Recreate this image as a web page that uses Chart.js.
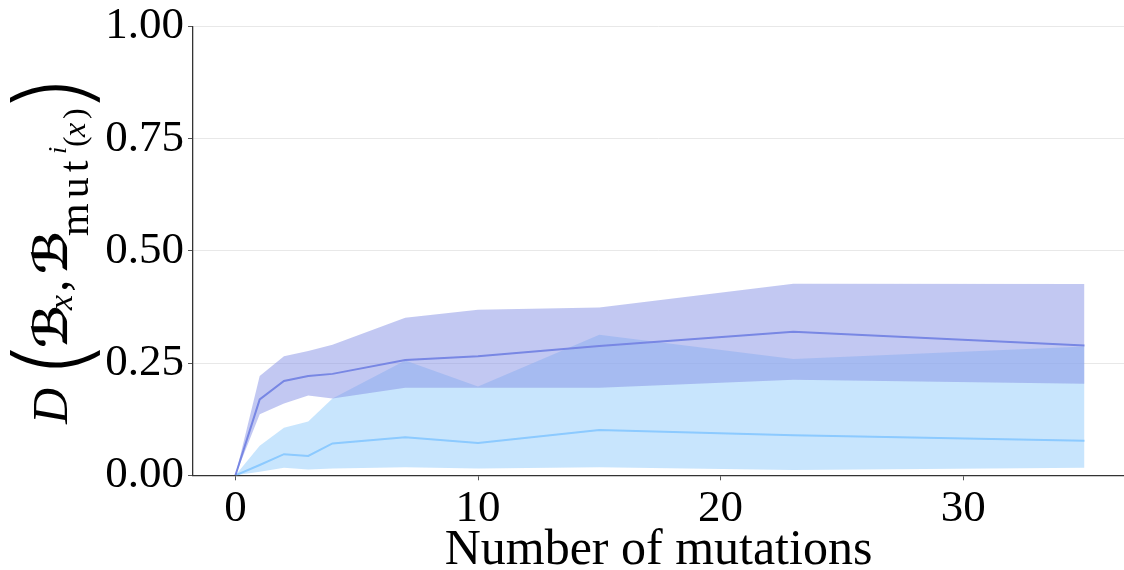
<!DOCTYPE html>
<html><head><meta charset="utf-8">
<script src="https://cdn.jsdelivr.net/npm/chart.js@4.4.1/dist/chart.umd.min.js"></script>
<style>html,body{margin:0;padding:0;background:#fff;overflow:hidden}#wrap{width:1124px;height:570px;position:relative}</style>
</head><body><div id="wrap"><canvas id="c" width="1124" height="570"></canvas></div>
<script>
// ---- data ----
const mutations  = [0, 1, 2, 3, 4, 7, 10, 15, 23, 35];
const darkMean   = [0, 0.169, 0.210, 0.221, 0.226, 0.257, 0.265, 0.288, 0.320, 0.289];
const darkUpper  = [0, 0.221, 0.265, 0.277, 0.291, 0.351, 0.369, 0.374, 0.427, 0.426];
const darkLower  = [0, 0.136, 0.160, 0.178, 0.171, 0.195, 0.195, 0.195, 0.213, 0.204];
const lightMean  = [0, 0.023, 0.047, 0.043, 0.071, 0.085, 0.072, 0.101, 0.089, 0.077];
const lightUpper = [0, 0.066, 0.106, 0.120, 0.171, 0.256, 0.198, 0.313, 0.259, 0.287];
const lightLower = [0, 0.008, 0.017, 0.013, 0.015, 0.018, 0.015, 0.018, 0.012, 0.017];
const xTicks = [0, 10, 20, 30];
const xTickLabels = ['0', '10', '20', '30'];
const yTicks = [0, 0.25, 0.5, 0.75, 1];
const yTickLabels = ['0.00', '0.25', '0.50', '0.75', '1.00'];
const xTitle = 'Number of mutations';
// y title: D( ℬ_x , ℬ_{mut^i(x)} )
const yTitleParts = ['D', '(', 'ℬ', 'x', ',', 'ℬ', 'mut', 'i', '(', 'x', ')', ')'];

// ---- styling ----
const SERIF = '"Liberation Serif", "Times New Roman", serif';
const SCRIPT = '"DejaVu Serif", "DejaVu Sans", serif';
const PAREN = '250 100px Inter, "Liberation Serif", serif';
// u: offset along the text, dy: baseline shift; box: fit glyph ink into [u0,u1]x[y0,y1]
const yTitleLayout = [
  {u: 0,   dy: 0,  font: 'italic 50px ' + SERIF},
  {font: PAREN, box: [56, 74, -57, 33]},
  {u: 76,  dy: 0,  font: 'bold 47px ' + SCRIPT},
  {u: 114, dy: 5,  font: 'italic 34px ' + SERIF},
  {u: 132, dy: 0,  font: '50px ' + SERIF},
  {u: 150, dy: 0,  font: 'bold 47px ' + SCRIPT},
  {u: 188, dy: 21, font: '42px ' + SERIF, ls: 5},
  {u: 270, dy: -1, font: 'italic 26px ' + SERIF},
  {u: 277, dy: 18, font: '32px ' + SERIF},
  {u: 287, dy: 18, font: 'italic 32px ' + SERIF},
  {u: 305, dy: 18, font: '32px ' + SERIF},
  {font: PAREN, box: [321, 339, -57, 33]}
];

const yTitlePlugin = {
  id: 'yTitle',
  afterDraw(chart) {
    const ctx = chart.ctx;
    const ca = chart.chartArea;
    const center = (ca.top + ca.bottom) / 2;
    const startY = center + 173;
    const baseX = 67;
    ctx.save();
    ctx.translate(baseX, startY);
    ctx.rotate(-Math.PI / 2);
    ctx.fillStyle = '#000';
    ctx.textBaseline = 'alphabetic';
    ctx.textAlign = 'left';
    yTitleParts.forEach((t, i) => {
      const s = yTitleLayout[i];
      ctx.font = s.font;
      if (s.box) {
        const m = ctx.measureText(t);
        const inkL = -m.actualBoundingBoxLeft, inkR = m.actualBoundingBoxRight;
        const inkT = -m.actualBoundingBoxAscent, inkB = m.actualBoundingBoxDescent;
        const [u0, u1, y0, y1] = s.box;
        const sx = (u1 - u0) / (inkR - inkL);
        const sy = (y1 - y0) / (inkB - inkT);
        ctx.save();
        ctx.translate(u0 - inkL * sx, y0 - inkT * sy);
        ctx.scale(sx, sy);
        ctx.fillText(t, 0, 0);
        ctx.restore();
      } else if (s.ls) {
        let u = s.u;
        for (const ch of t) {
          ctx.fillText(ch, u, s.dy);
          u += ctx.measureText(ch).width + s.ls;
        }
      } else {
        ctx.fillText(t, s.u, s.dy);
      }
    });
    ctx.restore();
  }
};

const pts = (ys) => mutations.map((x, i) => ({x: x, y: ys[i]}));
const DARK_FILL = 'rgba(134,146,230,0.5)';
const LIGHT_FILL = 'rgba(145,203,251,0.5)';

new Chart(document.getElementById('c'), {
  type: 'line',
  data: {
    datasets: [
      {data: pts(darkMean), borderColor: 'rgb(120,135,228)', borderWidth: 2, pointRadius: 0, fill: false, order: 0},
      {data: pts(lightMean), borderColor: 'rgb(140,202,255)', borderWidth: 2, pointRadius: 0, fill: false, order: 1},
      {data: pts(darkUpper), borderWidth: 0, borderColor: 'rgba(0,0,0,0)', backgroundColor: DARK_FILL, pointRadius: 0, fill: '+1', order: 2},
      {data: pts(darkLower), borderWidth: 0, borderColor: 'rgba(0,0,0,0)', pointRadius: 0, fill: false, order: 2},
      {data: pts(lightUpper), borderWidth: 0, borderColor: 'rgba(0,0,0,0)', backgroundColor: LIGHT_FILL, pointRadius: 0, fill: '+1', order: 3},
      {data: pts(lightLower), borderWidth: 0, borderColor: 'rgba(0,0,0,0)', pointRadius: 0, fill: false, order: 3}
    ]
  },
  options: {
    responsive: false,
    animation: false,
    devicePixelRatio: 1,
    layout: {padding: {top: 24.6, right: 0, left: 0, bottom: 0}},
    plugins: {legend: {display: false}, tooltip: {enabled: false}},
    elements: {line: {tension: 0}},
    scales: {
      x: {
        type: 'linear',
        min: -1.75,
        max: 36.63,
        afterBuildTicks: (s) => { s.ticks = xTicks.map(v => ({value: v})); },
        afterFit: (s) => { s.height = 94.7; },
        grid: {display: true, drawOnChartArea: false, drawTicks: true, tickLength: 5, tickColor: '#555', tickWidth: 1},
        border: {display: true, color: '#333', width: 1.3},
        ticks: {
          font: {family: SERIF, size: 45, lineHeight: 1},
          color: '#000', padding: 6, maxRotation: 0, autoSkip: false,
          callback: (v, i) => xTickLabels[i]
        },
        title: {display: true, text: xTitle, color: '#000', font: {family: SERIF, size: 50, lineHeight: 1}, padding: {top: 0, bottom: -6}}
      },
      y: {
        min: 0,
        max: 1,
        afterBuildTicks: (s) => { s.ticks = yTicks.map(v => ({value: v})); },
        afterFit: (s) => { s.width = 193; },
        grid: {display: true, drawOnChartArea: true, color: '#e8e8e8', lineWidth: 1, drawTicks: true, tickLength: 5, tickColor: '#555'},
        border: {display: true, color: '#333', width: 1.3},
        ticks: {
          font: {family: SERIF, size: 45, lineHeight: 1},
          color: '#000', padding: 4, autoSkip: false,
          callback: (v, i) => yTickLabels[i]
        }
      }
    }
  },
  plugins: [yTitlePlugin]
});
</script>
</body></html>
